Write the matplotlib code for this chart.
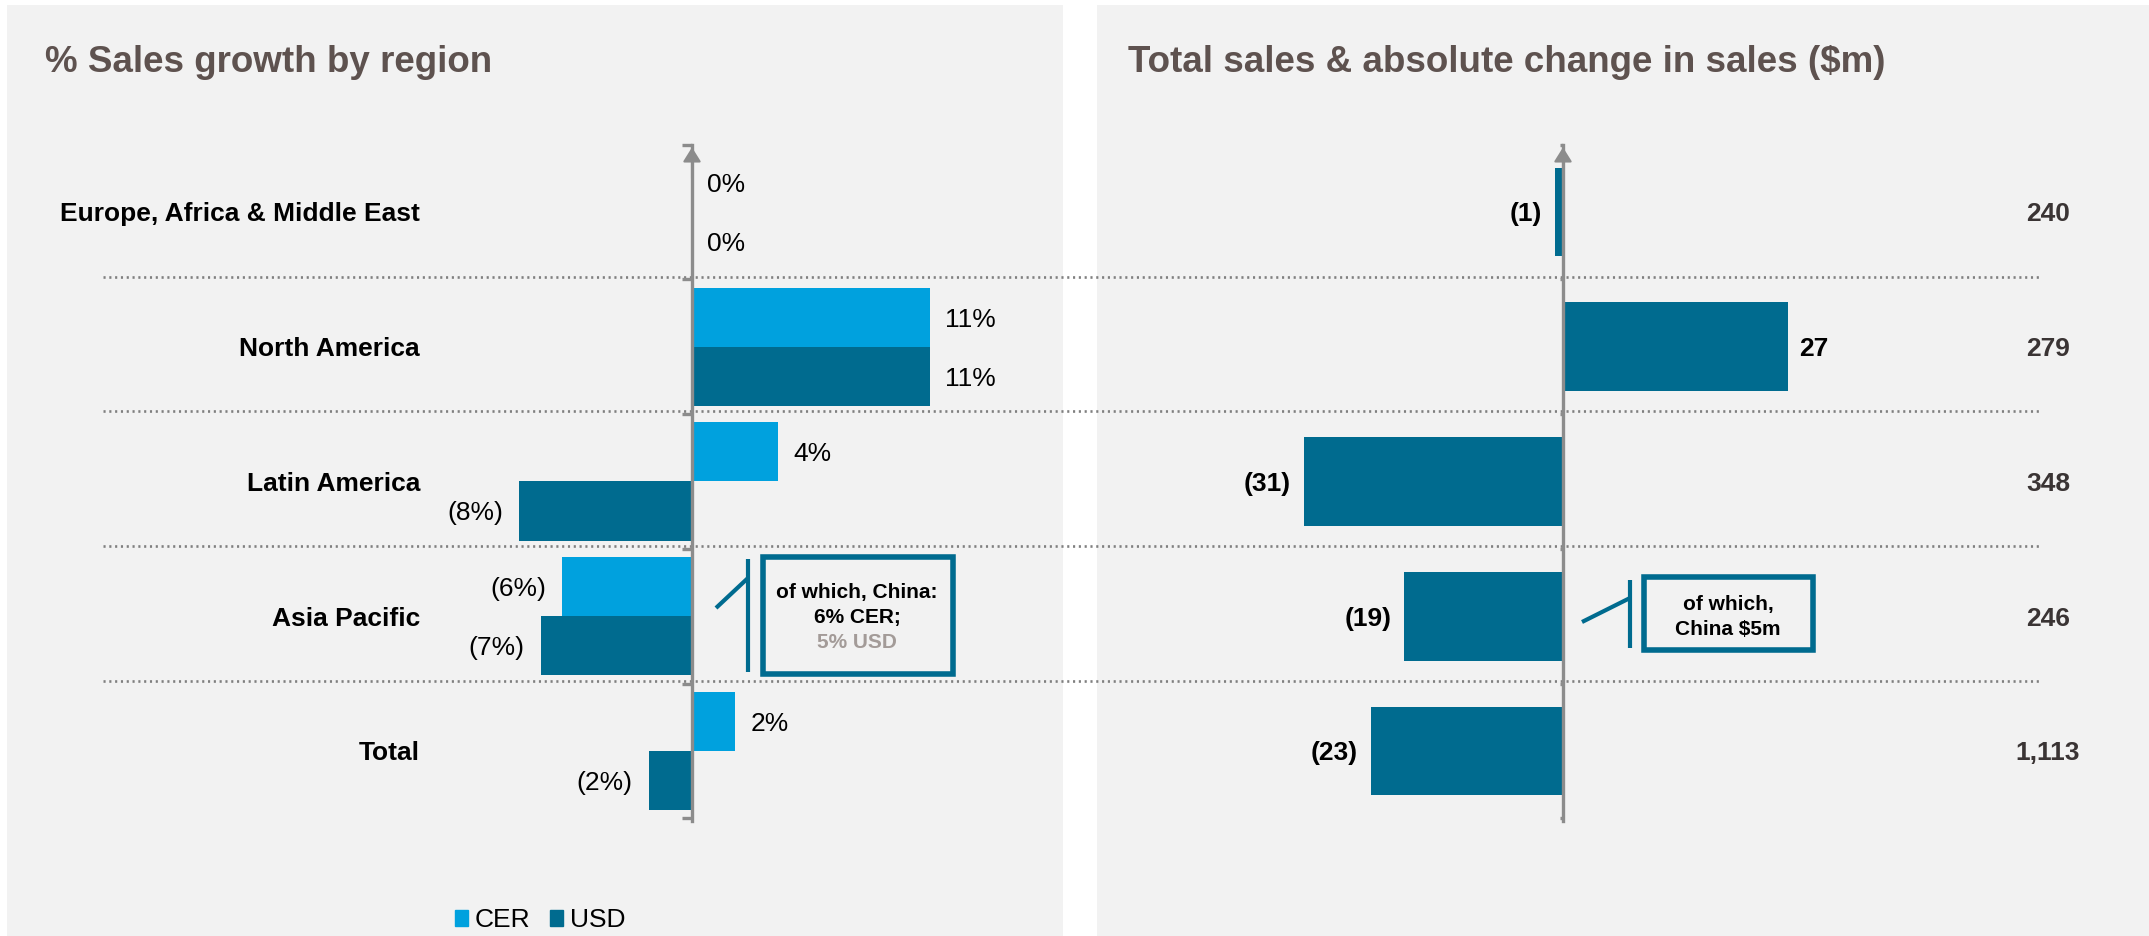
import matplotlib
matplotlib.use("Agg")
import matplotlib.pyplot as plt
from matplotlib import transforms
from matplotlib.lines import Line2D
from matplotlib.patches import Rectangle, Patch

# --- data -------------------------------------------------------------
regions = ["Europe, Africa & Middle East", "North America", "Latin America",
           "Asia Pacific", "Total"]
growth_cer = [0, 11, 4, -6, 2]          # % growth at constant exchange rates
growth_usd = [0, 11, -8, -7, -2]        # % growth in USD
abs_change = [-1, 27, -31, -19, -23]    # absolute change in sales, $m
total_sales = [240, 279, 348, 246, 1113]  # total sales, $m
series_names = ["CER", "USD"]

# --- style ------------------------------------------------------------
CER_COLOR = "#00A1DE"
USD_COLOR = "#006B8F"
PANEL_BG = "#F2F2F2"
AXIS_GREY = "#8C8C8C"
SEP_GREY = "#7F7F7F"
TITLE_COLOR = "#5E524F"
TOTAL_COLOR = "#3A3434"

W, H, DPI = 2149, 936, 100
ROW0_PX, ROW_PX = 212, 134.75   # pixel centre of first row, row pitch
LABEL_FS = 19
BOX_FS = 15

plt.rcParams["font.family"] = ["Liberation Sans", "DejaVu Sans"]

fig = plt.figure(figsize=(W / DPI, H / DPI), dpi=DPI)
fig.patch.set_facecolor("white")


def fx(px):
    return px / W


def fy(py):
    return 1 - py / H


def make_panel(x0, x1, zero_px, px_per_unit):
    """Grey panel plus a transparent axes whose x zero sits at zero_px."""
    fig.add_artist(Rectangle((fx(x0), 0), fx(x1) - fx(x0), fy(5),
                             transform=fig.transFigure, facecolor=PANEL_BG,
                             edgecolor="none", zorder=-5))
    ax = fig.add_axes([fx(x0), 0, fx(x1) - fx(x0), fy(5)])
    ax.set_facecolor("none")
    ax.set_xlim((x0 - zero_px) / px_per_unit, (x1 - zero_px) / px_per_unit)
    ax.set_ylim((H - ROW0_PX) / ROW_PX, (5 - ROW0_PX) / ROW_PX)
    ax.px = lambda px, py: ((px - zero_px) / px_per_unit, (py - ROW0_PX) / ROW_PX)
    return ax


def style_axis(ax, tick_len):
    for s in ["top", "right", "bottom"]:
        ax.spines[s].set_visible(False)
    sp = ax.spines["left"]
    sp.set_position(("data", 0))
    sp.set_bounds(-0.5, len(regions) - 0.48)
    sp.set_color(AXIS_GREY)
    sp.set_linewidth(2.4)
    sp.set_zorder(3)
    ax.set_xticks([])
    ax.set_yticks([i - 0.5 for i in range(len(regions) + 1)])
    ax.set_yticklabels([])
    ax.tick_params(axis="y", direction="out", length=tick_len, width=2.4,
                   color=AXIS_GREY)
    ax.annotate("", xy=(0, -0.48), xytext=(0, -0.25),
                arrowprops=dict(arrowstyle="-|>,head_length=0.4,head_width=0.25",
                                mutation_scale=22, color=AXIS_GREY, lw=1.5,
                                shrinkA=0, shrinkB=0), zorder=4)


def put(ax, x, y, s, dx_px=0, fs=LABEL_FS, **kw):
    # baseline placed so the cap height is centred on y
    tf = transforms.offset_copy(ax.transData, fig=fig, x=dx_px * 72 / DPI,
                                y=-0.716 * fs / 2, units="points")
    ax.text(x, y, s, transform=tf, va="baseline", fontsize=fs, **kw)


def fmt_pct(v):
    return f"({abs(v)}%)" if v < 0 else f"{v}%"


def fmt_num(v):
    return f"({abs(v):,})" if v < 0 else f"{v:,}"


def callout(ax, box_px, bar_px, diag_px):
    (bx0, by0), (bx1, by1) = ax.px(*box_px[0]), ax.px(*box_px[1])
    ax.add_patch(Rectangle((bx0, by0), bx1 - bx0, by1 - by0, facecolor=PANEL_BG,
                           edgecolor=USD_COLOR, linewidth=4, zorder=4))
    (vx, vy0), (_, vy1) = ax.px(*bar_px[0]), ax.px(*bar_px[1])
    ax.plot([vx, vx], [vy0, vy1], color=USD_COLOR, lw=3, solid_capstyle="butt")
    (dx0, dy0), (dx1, dy1) = ax.px(*diag_px[0]), ax.px(*diag_px[1])
    ax.plot([dx0, dx1], [dy0, dy1], color=USD_COLOR, lw=3, solid_capstyle="butt")


rows = list(range(len(regions)))

# --- left panel: % growth ---------------------------------------------
axl = make_panel(7, 1063, 692, 21.6)
style_axis(axl, 7)
bh = 0.438
axl.barh([r - bh / 2 for r in rows], growth_cer, height=bh, color=CER_COLOR,
         label=series_names[0], zorder=2)
axl.barh([r + bh / 2 for r in rows], growth_usd, height=bh, color=USD_COLOR,
         label=series_names[1], zorder=2)
for r, name in zip(rows, regions):
    put(axl, axl.px(420, 0)[0], r, name, ha="right", fontweight="bold")
for vals, off in ((growth_cer, -bh / 2), (growth_usd, bh / 2)):
    for r, v in zip(rows, vals):
        if v >= 0:
            put(axl, v, r + off, fmt_pct(v), dx_px=15, ha="left")
        else:
            put(axl, v, r + off, fmt_pct(v), dx_px=-16, ha="right")

# separators run across both panels
sep_tf = transforms.blended_transform_factory(fig.transFigure, axl.transData)
for r in rows[:-1]:
    axl.add_line(Line2D([fx(103), fx(2042)], [r + 0.48] * 2, transform=sep_tf,
                       color=SEP_GREY, lw=1.9, linestyle=(0, (0.8, 1.4)),
                       clip_on=False, zorder=1))

callout(axl, [(763, 557), (953, 674)], [(748, 559), (748, 672)],
        [(716, 608), (748, 578)])
bx = axl.px(857, 0)[0]
put(axl, bx, axl.px(0, 591)[1], "of which, China:", fs=BOX_FS, ha="center",
    fontweight="bold", zorder=5)
put(axl, bx, axl.px(0, 616)[1], "6% CER;", fs=BOX_FS, ha="center",
    fontweight="bold", zorder=5)
put(axl, bx, axl.px(0, 641)[1], "5% USD", fs=BOX_FS, ha="center",
    fontweight="bold", color="#A39B98", zorder=5)

axl.legend(handles=[Patch(color=CER_COLOR), Patch(color=USD_COLOR)],
           labels=series_names, loc="center",
           bbox_to_anchor=(fx(540), fy(920)), bbox_transform=fig.transFigure,
           ncol=2, frameon=False, fontsize=LABEL_FS, handlelength=0.5,
           handleheight=0.55, handletextpad=0.25, columnspacing=0.75,
           borderpad=0, borderaxespad=0)

fig.text(fx(45), fy(72), "% Sales growth by region", fontsize=26.5,
         fontweight="bold", color=TITLE_COLOR, va="baseline")

# --- right panel: absolute change ---------------------------------------
axr = make_panel(1097, 2149, 1563, 8.35)
style_axis(axr, 2.5)
axr.barh(rows, abs_change, height=0.66, color=USD_COLOR, zorder=2)
for r, v in zip(rows, abs_change):
    if v >= 0:
        put(axr, v, r, fmt_num(v), dx_px=11, ha="left", fontweight="bold")
    else:
        put(axr, v, r, fmt_num(v), dx_px=-13, ha="right", fontweight="bold")
for r, v in zip(rows, total_sales):
    put(axr, axr.px(2048, 0)[0], r, fmt_num(v), ha="center", fontweight="bold",
        color=TOTAL_COLOR)

callout(axr, [(1644, 577), (1813, 650)], [(1630, 580), (1630, 648)],
        [(1582, 622), (1630, 598)])
bx = axr.px(1728, 0)[0]
put(axr, bx, axr.px(0, 603)[1], "of which,", fs=BOX_FS, ha="center",
    fontweight="bold", zorder=5)
put(axr, bx, axr.px(0, 628)[1], "China $5m", fs=BOX_FS, ha="center",
    fontweight="bold", zorder=5)

fig.text(fx(1128), fy(72), "Total sales & absolute change in sales ($m)",
         fontsize=26.5, fontweight="bold", color=TITLE_COLOR, va="baseline")

fig.savefig("out.png", dpi=DPI, facecolor="white")
